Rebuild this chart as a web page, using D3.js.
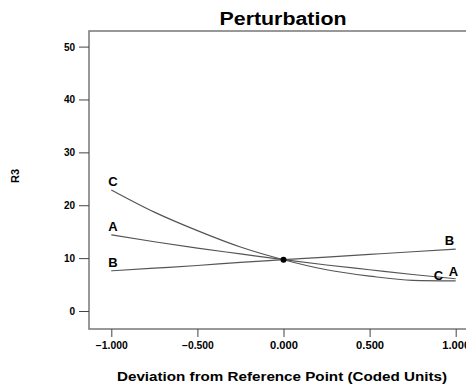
<!DOCTYPE html>
<html>
<head>
<meta charset="utf-8">
<script src="https://cdn.jsdelivr.net/npm/d3@7"></script>
<style>
  body { margin: 0; background: #fff; }
  text { font-family: "Liberation Sans", Arial, sans-serif; font-weight: bold; fill: #000; }
</style>
</head>
<body>
<svg width="466" height="385"></svg>
<script>
// Data.

var xCoded = [-1, -0.75, -0.5, -0.25, 0, 0.25, 0.5, 0.75, 1];
var seriesA = [14.4, 13.1, 11.9, 10.8, 9.7, 8.7, 7.8, 6.9, 6.1];
var seriesB = [7.6, 8.1, 8.6, 9.2, 9.7, 10.2, 10.7, 11.2, 11.7];
var seriesC = [22.9, 18.7, 15.2, 12.1, 9.7, 7.8, 6.6, 5.8, 5.7];
var xTicks = [-1, -0.5, 0, 0.5, 1];
var yTicks = [0, 10, 20, 30, 40, 50];
var refPoint = {x: 0, y: 9.7};

var svg = d3.select('svg');

// Plot frame.

var frame = {left: 89, top: 31, right: 480, bottom: 329};

var x = d3.scaleLinear().domain([-1, 1]).range([111.3, 455.7]);
var y = d3.scaleLinear().domain([0, 50]).range([311, 46.6]);

svg.append('rect')
 .attr('x', frame.left)
 .attr('y', frame.top)
 .attr('width', frame.right - frame.left)
 .attr('height', frame.bottom - frame.top)
 .attr('fill', 'none')
 .attr('stroke', '#777')
 .attr('stroke-width', 1.5);

// Axes drawn outside the frame.

var yAxis = svg.append('g')
 .attr('transform', 'translate(' + frame.left + ',0)')
 .call(d3.axisLeft(y).tickValues(yTicks).tickSize(10).tickPadding(4).tickFormat(d3.format('d')));
yAxis.select('.domain').remove();
yAxis.selectAll('line').attr('stroke', '#444');
yAxis.selectAll('text').style('font-size', '10px').attr('dy', '0.35em');

var xAxis = svg.append('g')
 .attr('transform', 'translate(0,' + frame.bottom + ')')
 .call(d3.axisBottom(x).tickValues(xTicks).tickSize(8).tickPadding(5).tickFormat(d3.format('.3f')));
xAxis.select('.domain').remove();
xAxis.selectAll('line').attr('stroke', '#444');
xAxis.selectAll('text').style('font-size', '10px').attr('textLength', function(d) { return d < 0 ? 32 : 28; }).attr('lengthAdjust', 'spacingAndGlyphs');

// Curves.

var line = d3.line()
 .x(function(d) { return x(d[0]); })
 .y(function(d) { return y(d[1]); })
 .curve(d3.curveMonotoneX);

var series = [
 {key: 'A', values: seriesA},
 {key: 'B', values: seriesB},
 {key: 'C', values: seriesC}
];

svg.append('g')
 .selectAll('path')
 .data(series)
 .enter().append('path')
 .attr('d', function(s) { return line(xCoded.map(function(v, i) { return [v, s.values[i]]; })); })
 .attr('fill', 'none')
 .attr('stroke', '#555')
 .attr('stroke-width', 1.2);

svg.append('circle')
 .attr('cx', x(refPoint.x))
 .attr('cy', y(refPoint.y))
 .attr('r', 3)
 .attr('fill', '#000');

// Curve labels.

var labels = svg.append('g').style('font-size', '13px');
series.forEach(function(s) {
 labels.append('text')
  .attr('x', x(-1) - 3)
  .attr('y', y(s.values[0]) - 4)
  .text(s.key);
});
labels.append('text').attr('x', x(1) - 11).attr('y', y(seriesB[8]) - 4).text('B');
labels.append('text').attr('x', x(1) - 7).attr('y', y(seriesA[8]) - 3).text('A');
labels.append('text').attr('x', x(1) - 22).attr('y', y(seriesC[8]) - 1).text('C');

// Titles.

svg.append('text')
 .attr('x', 283)
 .attr('y', 25)
 .attr('text-anchor', 'middle')
 .attr('textLength', 127)
 .attr('lengthAdjust', 'spacingAndGlyphs')
 .style('font-size', '18px')
 .text('Perturbation');

svg.append('text')
 .attr('transform', 'translate(19,176) rotate(-90)')
 .attr('text-anchor', 'middle')
 .style('font-size', '11px')
 .text('R3');

svg.append('text')
 .attr('x', 282)
 .attr('y', 381)
 .attr('text-anchor', 'middle')
 .attr('textLength', 330)
 .attr('lengthAdjust', 'spacingAndGlyphs')
 .style('font-size', '12px')
 .text('Deviation from Reference Point (Coded Units)');
</script>
</body>
</html>
